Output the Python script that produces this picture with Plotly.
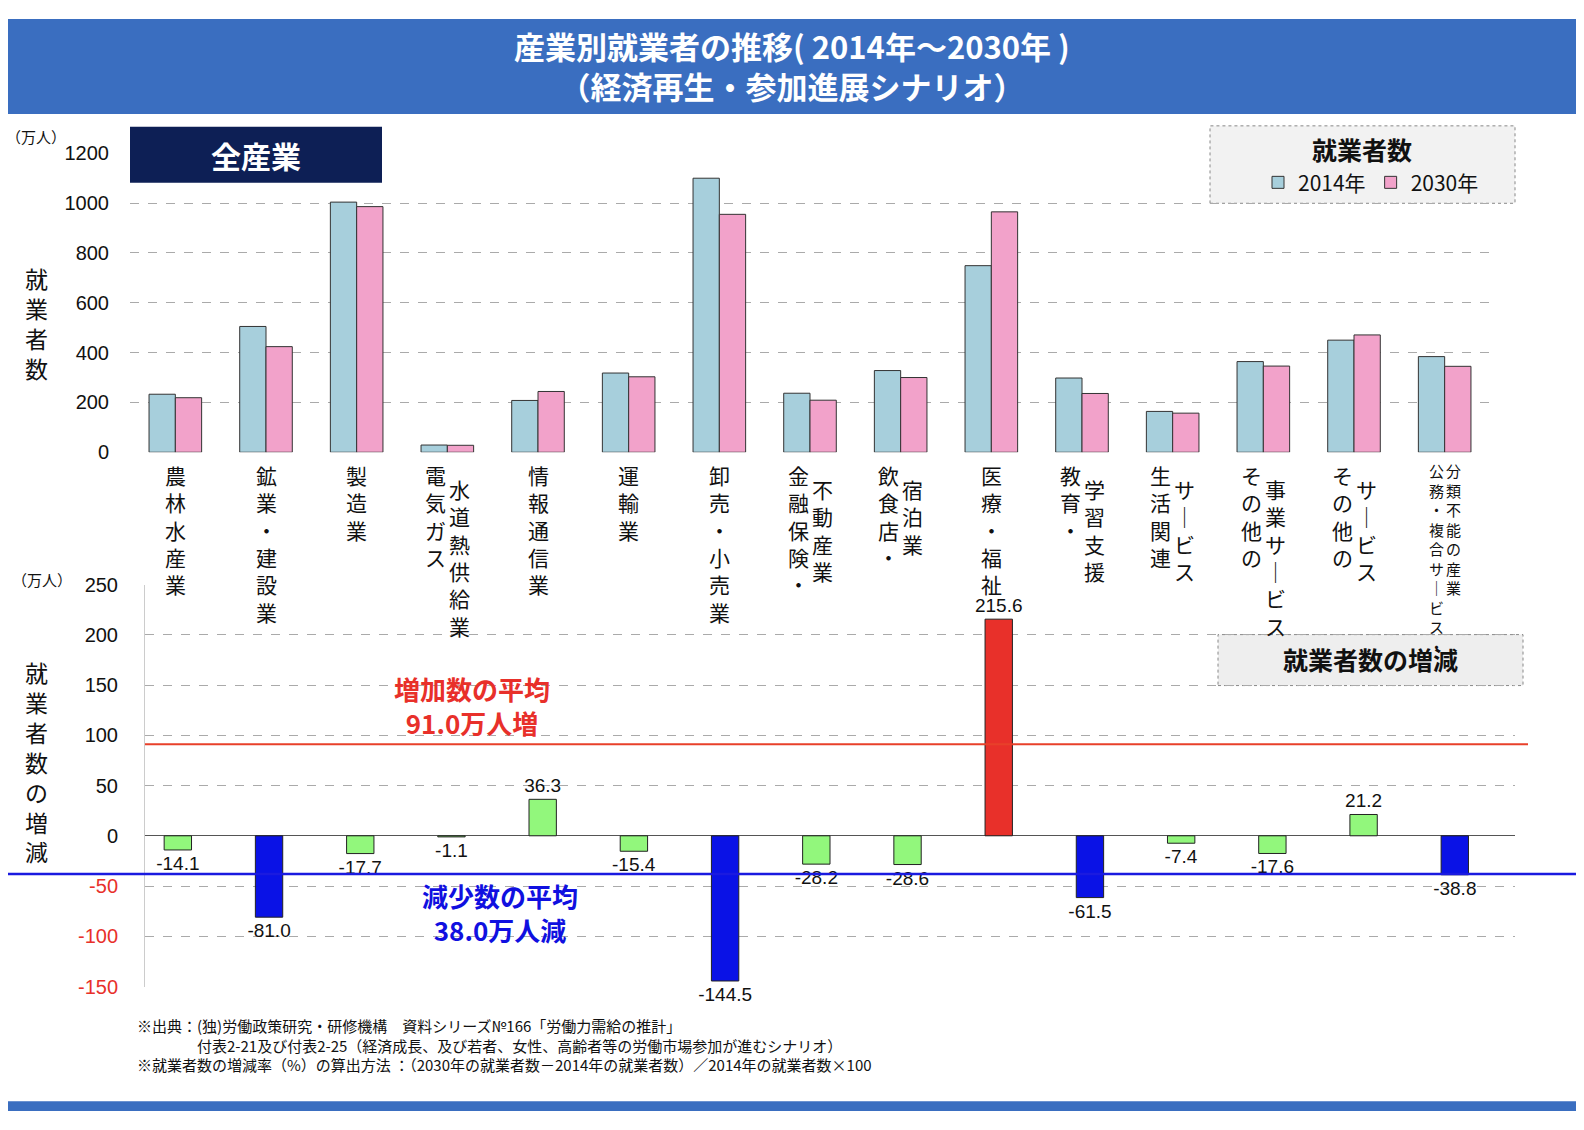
import plotly.graph_objects as go

W, H = 1568, 1114
OFF = 8  # page margin of the browser body

# 産業 (縦書きの列, 左から右)
label_cols = [
    ["農林水産業"], ["鉱業・建設業"], ["製造業"], ["電気ガス", "水道熱供給業"],
    ["情報通信業"], ["運輸業"], ["卸売・小売業"], ["金融保険・", "不動産業"],
    ["飲食店・", "宿泊業"], ["医療・福祉"], ["教育・", "学習支援"],
    ["生活関連", "サービス"], ["その他の", "事業サービス"], ["その他の", "サービス"],
    ["公務・複合サービス・", "分類不能の産業"],
]
emp_2014 = [233, 505, 1004, 29, 208, 318, 1100, 237, 328, 749, 298, 164, 364, 450, 384]
emp_2030 = [219, 424, 986, 28, 244, 303, 955, 209, 300, 965, 236, 157, 346, 471, 345]
change = [-14.1, -81.0, -17.7, -1.1, 36.3, -15.4, -144.5, -28.2, -28.6, 215.6,
          -61.5, -7.4, -17.6, 21.2, -38.8]
avg_inc = 91.0
avg_dec = -38.0

FONT = "Noto Sans CJK JP"
idx = list(range(len(change)))


def px_x(p):
    return min(max((p - OFF) / W, 0), 1)


def px_y(p):
    return min(max(1 - (p - OFF) / H, 0), 1)


col_change = []
for v in change:
    if v > avg_inc:
        col_change.append("#e8302a")
    elif v < avg_dec:
        col_change.append("#0a12e6")
    else:
        col_change.append("#92f77c")

fig = go.Figure()
fig.add_trace(go.Bar(x=idx, y=emp_2014, name="2014年", marker=dict(color="#a7cfdc", line=dict(color="#333", width=1)),
                     xaxis="x", yaxis="y"))
fig.add_trace(go.Bar(x=idx, y=emp_2030, name="2030年", marker=dict(color="#f2a2ca", line=dict(color="#333", width=1)),
                     xaxis="x", yaxis="y"))
fig.add_trace(go.Bar(x=idx, y=change, width=0.3, showlegend=False,
                     marker=dict(color=col_change, line=dict(color="#222", width=1)),
                     text=[f"{v:.1f}" for v in change], textposition="outside", constraintext="none",
                     textfont=dict(size=19, color="#111", family="Liberation Sans"),
                     cliponaxis=False, xaxis="x2", yaxis="y2"))

neg_red = lambda v: f"<span style='color:#e8302a'>{v}</span>" if v < 0 else str(v)
bot_ticks = [-150, -100, -50, 0, 50, 100, 150, 200, 250]

fig.update_layout(
    width=W, height=H, margin=dict(l=0, r=0, t=0, b=0),
    paper_bgcolor="white", plot_bgcolor="white",
    font=dict(family=FONT, color="#111"),
    barmode="group", bargap=0.42, bargroupgap=0,
    showlegend=True,
    legend=dict(orientation="h", x=px_x(1258), y=px_y(175), xanchor="left", yanchor="middle",
                font=dict(size=21), bgcolor="rgba(0,0,0,0)", itemwidth=30),
    xaxis=dict(domain=[px_x(130), px_x(1490)], range=[-0.5, 14.5], showticklabels=False,
               showgrid=False, zeroline=False, showline=False, anchor="y"),
    yaxis=dict(domain=[px_y(450), px_y(145)], range=[0, 1200], tickvals=[0, 200, 400, 600, 800, 1000, 1200],
               showgrid=True, gridcolor="#aaa", griddash="dash", zeroline=False,
               tickfont=dict(size=20, family="Liberation Sans"), ticks="", ticklabelstandoff=20, anchor="x"),
    xaxis2=dict(domain=[px_x(145), px_x(1515)], range=[-0.36, 14.66], showticklabels=False,
                showgrid=False, zeroline=False, showline=False, anchor="y2"),
    yaxis2=dict(domain=[px_y(995), px_y(585)], range=[-150, 250], tickvals=bot_ticks,
                ticktext=[neg_red(v) for v in bot_ticks],
                showgrid=True, gridcolor="#aaa", griddash="dash", zeroline=True, zerolinecolor="#555",
                zerolinewidth=1, tickfont=dict(size=20, family="Liberation Sans"), ticks="",
                ticklabelstandoff=22, showline=True, linecolor="#ccc", anchor="x2"),
)

shapes = [
    dict(type="rect", xref="paper", yref="paper", x0=0, x1=1, y0=px_y(105), y1=1,
         fillcolor="#3a6ec0", line=dict(width=0), layer="below"),
    dict(type="rect", xref="paper", yref="paper", x0=0, x1=1, y0=0, y1=px_y(1112),
         fillcolor="#3a6ec0", line=dict(width=0), layer="below"),
    dict(type="rect", xref="paper", yref="paper", x0=px_x(130), x1=px_x(382), y0=px_y(175), y1=px_y(118),
         fillcolor="#0d1f55", line=dict(width=0)),
    dict(type="rect", xref="paper", yref="paper", x0=px_x(1210), x1=px_x(1515), y0=px_y(196), y1=px_y(117),
         fillcolor="#f2f2f2", line=dict(color="#888", width=1, dash="dot"), layer="below"),
    dict(type="rect", xref="paper", yref="paper", x0=px_x(1218), x1=px_x(1523), y0=px_y(688), y1=px_y(636),
         fillcolor="#eeeeee", line=dict(color="#888", width=1, dash="dot"), layer="below"),
    dict(type="line", xref="paper", yref="y2", x0=px_x(145), x1=px_x(1528), y0=avg_inc, y1=avg_inc,
         line=dict(color="#e8402a", width=2)),
    dict(type="line", xref="paper", yref="y2", x0=0, x1=1, y0=avg_dec, y1=avg_dec,
         line=dict(color="#1a1ae0", width=2.5)),
]

ann = [
    dict(x=0.5, y=px_y(55), text="<b>産業別就業者の推移( 2014年～2030年 )<br>（経済再生・参加進展シナリオ）</b>",
         font=dict(size=31, color="white")),
    dict(x=px_x(256), y=px_y(147), text="<b>全産業</b>", font=dict(size=30, color="white")),
    dict(x=px_x(1362), y=px_y(141), text="<b>就業者数</b>", font=dict(size=25)),
    dict(x=px_x(1370), y=px_y(661), text="<b>就業者数の増減</b>", font=dict(size=25)),
    dict(x=px_x(36), y=px_y(128), text="（万人）", font=dict(size=15)),
    dict(x=px_x(42), y=px_y(580), text="（万人）", font=dict(size=15)),
    dict(x=px_x(36), y=px_y(318), text="就<br>業<br>者<br>数", font=dict(size=23)),
    dict(x=px_x(36), y=px_y(765), text="就<br>業<br>者<br>数<br>の<br>増<br>減", font=dict(size=23)),
    dict(x=px_x(472), y=px_y(708), text="<b>増加数の平均<br>91.0万人増</b>", font=dict(size=26, color="#e8302a")),
    dict(x=px_x(500), y=px_y(920), text="<b>減少数の平均<br>38.0万人減</b>", font=dict(size=26, color="#1010e0")),
    dict(x=px_x(135), y=px_y(1022), xanchor="left", yanchor="top", align="left",
         font=dict(size=15),
         text="※出典：(独)労働政策研究・研修機構　資料シリーズ№166「労働力需給の推計」<br>"
              "　　　　付表2-21及び付表2-25（経済成長、及び若者、女性、高齢者等の労働市場参加が進むシナリオ）<br>"
              "※就業者数の増減率（%）の算出方法 ：（2030年の就業者数－2014年の就業者数）／2014年の就業者数×100"),
]
for a in ann:
    a.setdefault("xref", "paper")
    a.setdefault("yref", "paper")
    a.setdefault("xanchor", "center")
    a.setdefault("yanchor", "middle")
    a["showarrow"] = False

# 縦書きの産業名
for i, cols in enumerate(label_cols):
    small = i == len(label_cols) - 1
    fs = 15 if small else 21
    step = 17 if small else 24
    lh = 16 if small else 23
    n = len(cols)
    for j, c in enumerate(cols):
        vt = "<br>".join(ch.replace("ー", "｜") for ch in c)
        off = (j - (n - 1) / 2) * step
        top = 456 + (0 if (j == 0 or small) else 14)
        ann.append(dict(x=i, xref="x", y=px_y(top), yref="paper", xanchor="center", yanchor="top",
                        xshift=off, text=vt, font=dict(size=fs), showarrow=False))

fig.update_layout(shapes=shapes, annotations=ann)

fig.write_html("out.html")
